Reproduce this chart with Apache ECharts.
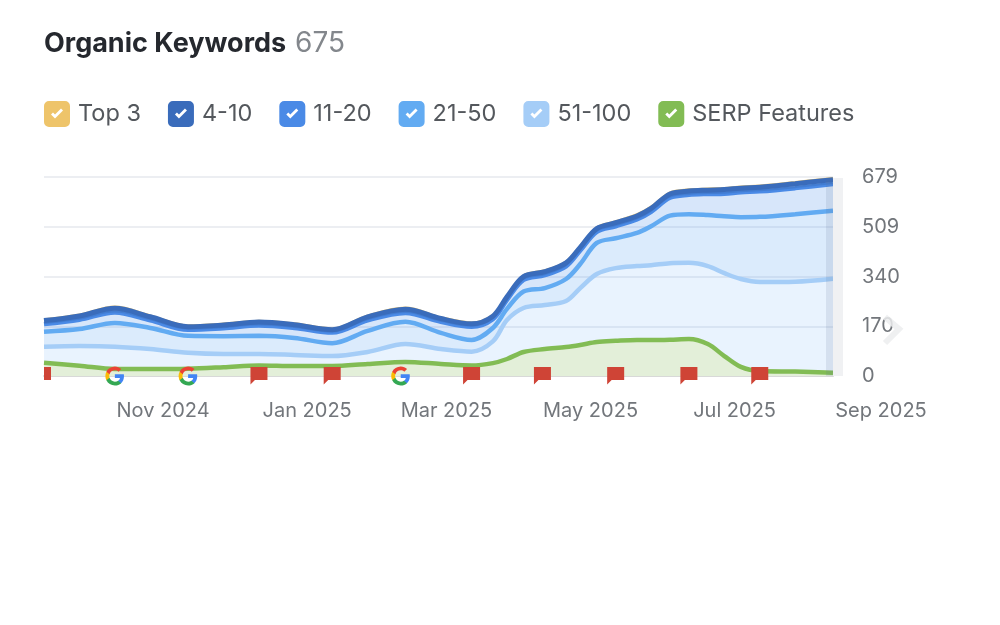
<!DOCTYPE html>
<html><head><meta charset="utf-8">
<style>html,body{margin:0;padding:0;background:#fff}#c{width:1000px;height:625px;filter:blur(0.5px)}</style>
<script src="https://cdn.jsdelivr.net/npm/echarts@6/dist/echarts.min.js"></script>
</head><body><div id="c"></div>
<script>
const dates = ['2024-09-01','2024-09-16','2024-10-01','2024-10-16','2024-11-01','2024-11-16','2024-12-01','2024-12-16','2025-01-01','2025-01-16','2025-02-01','2025-02-16','2025-03-01','2025-03-10','2025-03-16','2025-03-23','2025-04-01','2025-04-10','2025-04-16','2025-04-23','2025-05-01','2025-05-10','2025-05-16','2025-05-24','2025-06-01','2025-06-09','2025-06-16','2025-06-23','2025-07-01','2025-07-16','2025-08-01'];
const kw51to100 = [100,102,100,92,79,75,75,72,68,82,109,92,83,118,191,232,242,256,300,348,368,375,378,385,386,375,351,331,321,322,332];
const kw21to50  = [51,58,81,72,58,61,62,58,44,72,76,55,40,46,38,56,58,75,82,106,102,113,133,162,166,174,194,211,222,230,232];
const kw11to20  = [26,32,36,26,21,27,35,34,36,36,30,38,45,30,31,40,44,43,46,38,41,46,49,61,66,72,77,85,87,89,91];
const kw4to10   = [12,13,14,12,10,11,12,11,10,12,13,11,10,10,10,11,12,12,11,11,12,12,12,13,13,13,14,14,14,15,15];
const kwTop3    = [4,4,5,4,4,4,4,4,4,4,5,4,4,4,4,4,4,4,4,4,4,5,5,5,5,5,5,5,5,5,5];
const serp      = [45,35,24,24,25,30,36,34,34,41,48,41,36,44,58,82,92,99,106,116,120,123,123,124,126,109,68,31,17,15,11];
const flagDates = ['2024-12-01','2025-01-01','2025-03-01','2025-03-31','2025-05-01','2025-06-01','2025-07-01'];
const flagCutDates = ['2024-09-01'];
const googleDates = ['2024-10-01','2024-11-01','2025-01-30'];
const xTickDates = ['2024-11-01','2025-01-01','2025-03-01','2025-05-01','2025-07-01','2025-09-01'];
const xTickLabels = ['Nov 2024','Jan 2025','Mar 2025','May 2025','Jul 2025','Sep 2025'];
const yTickLabels = ['0','170','340','509','679'];
const legendNames = ['Top 3','4-10','11-20','21-50','51-100','SERP Features'];
const FONT = 'Inter';
const SMOOTH = 0.33;
const colors = {'Top 3':'#eec46a','4-10':'#3a6cbb','11-20':'#4a8ae6','21-50':'#62abf2','51-100':'#a5cdf7','SERP Features':'#82bc54'};
const fills = {'Top 3':'rgba(238,196,106,.3)','4-10':'rgba(58,108,187,.45)','11-20':'rgba(75,140,230,.22)','21-50':'rgba(90,165,240,.22)','51-100':'rgba(110,175,245,.15)'};
const ts = d => +echarts.time.parse(d);
const zip = a => dates.map((d,i)=>[d,a[i]]);
const stacked = (name,arr,w,z) => ({name,type:'line',stack:'kw',data:zip(arr),smooth:SMOOTH,showSymbol:false,symbol:'none',z,
  lineStyle:{color:colors[name],width:w},itemStyle:{color:colors[name]},areaStyle:{color:fills[name],opacity:1},silent:true,xAxisIndex:0,yAxisIndex:0});
const CHECK = 'path://M5 0H21A5 5 0 0 1 26 5V21A5 5 0 0 1 21 26H5A5 5 0 0 1 0 21V5A5 5 0 0 1 5 0Z M7 13.5L11 17.5L19 9.5L17 7.5L11 13.5L9 11.5Z';
const gPaths = [['#4285F4','M45.12 24.5c0-1.56-.14-3.06-.4-4.5H24v8.51h11.84c-.51 2.75-2.06 5.08-4.39 6.64v5.52h7.11c4.16-3.83 6.56-9.47 6.56-16.17z'],
['#34A853','M24 46c5.94 0 10.92-1.97 14.56-5.33l-7.11-5.52c-1.97 1.32-4.49 2.1-7.45 2.1-5.73 0-10.58-3.87-12.31-9.07H4.34v5.7C7.96 41.07 15.4 46 24 46z'],
['#FBBC05','M11.69 28.18C11.25 26.86 11 25.45 11 24s.25-2.86.69-4.18v-5.7H4.34C2.85 17.09 2 20.45 2 24c0 3.55.85 6.91 2.34 9.88l7.35-5.7z'],
['#EA4335','M24 10.75c3.23 0 6.13 1.11 8.41 3.29l6.31-6.31C34.91 4.18 29.93 2 24 2 15.4 2 7.96 6.93 4.34 14.12l7.35 5.7c1.73-5.2 6.58-9.07 12.31-9.07z']];
function mark(kind){ return (params,api)=>{
  const p = api.coord([api.value(0),0]);
  if(kind==='google'){
    const s = 19/44;
    return {type:'group',x:p[0]-24*s,y:p[1]-24*s,children:gPaths.map(g=>({type:'path',scaleX:s,scaleY:s,shape:{pathData:g[1]},style:{fill:g[0]}}))};
  }
  const path = kind==='flag' ? 'M-8.5 -9H8.5V4H-4L-8.5 8.5Z' : 'M0 -9H7V4H0Z';
  return {type:'path',x:p[0],y:p[1],shape:{pathData:path},style:{fill:'#cf4436'}};
};}
const custom = (kind,list)=>({type:'custom',renderItem:mark(kind),data:list.map(d=>[d]),encode:{x:0},clip:false,z:8,silent:true,xAxisIndex:0,yAxisIndex:0});
const chart = echarts.init(document.getElementById('c'),null,{renderer:'canvas'});
chart.setOption({
  animation:false,backgroundColor:'#fff',
  textStyle:{fontFamily:FONT},
  title:{left:39,top:25,text:'{a|Organic Keywords}{s| }{b|675}',textStyle:{rich:{
    a:{fontFamily:FONT,fontSize:27,fontWeight:700,color:'#25282e'},
    s:{width:9},
    b:{fontFamily:FONT,fontSize:28,fontWeight:400,color:'#83878c'}}}},
  legend:{left:39,top:96,itemWidth:26,itemHeight:26,itemGap:27,selectedMode:false,
    data:legendNames.map(n=>({name:n,icon:CHECK})),
    textStyle:{fontFamily:FONT,fontSize:23.5,color:'#54585d',padding:[0,0,0,3]}},
  grid:[{left:44,width:789,top:177,height:199},{left:19,width:862,top:177,height:199}],
  xAxis:[
   {type:'time',gridIndex:0,min:dates[0],max:dates[dates.length-1],axisLine:{show:true,lineStyle:{color:'#d8d9d8',width:2}},axisTick:{show:false},axisLabel:{show:false},splitLine:{show:false}},
   {type:'value',gridIndex:1,min:ts('2024-09-01'),max:ts('2025-09-01'),axisLine:{show:false},axisTick:{show:false},splitLine:{show:false},
    axisLabel:{show:true,margin:25,fontFamily:FONT,fontSize:20,color:'#72767b',hideOverlap:false,showMinLabel:true,showMaxLabel:true,
      customValues:xTickDates.map(ts),
      formatter:v=>{const i=xTickDates.findIndex(d=>ts(d)===+v);return i<0?'':xTickLabels[i];}}}
  ],
  yAxis:[
   {type:'value',gridIndex:0,position:'right',min:0,max:679,interval:169.75,axisLine:{show:false},axisTick:{show:false},
    splitLine:{show:true,lineStyle:{color:'#eceef2',width:2}},
    axisLabel:{margin:29,fontFamily:FONT,fontSize:20,color:'#72767b',padding:[0,0,3,0],formatter:(v)=>yTickLabels[Math.round(v/169.75)]}},
   {type:'value',gridIndex:1,min:0,max:1,show:false}
  ],
  series:[
    stacked('51-100',kw51to100,4.5,3),
    stacked('21-50',kw21to50,4.5,3),
    stacked('11-20',kw11to20,4.5,3),
    stacked('4-10',kw4to10,5,4),
    stacked('Top 3',kwTop3,2.5,2),
    {name:'SERP Features',type:'line',data:zip(serp),smooth:SMOOTH,showSymbol:false,symbol:'none',z:5,silent:true,
     lineStyle:{color:colors['SERP Features'],width:4.5},itemStyle:{color:colors['SERP Features']},areaStyle:{color:'#e3efd9',opacity:1},xAxisIndex:0,yAxisIndex:0},
    custom('flag',flagDates),custom('cut',flagCutDates),custom('google',googleDates)
  ],
  graphic:[
    {type:'rect',z:6,shape:{x:826,y:178,width:7,height:198},style:{fill:'rgba(90,115,150,.14)'},silent:true},
    {type:'rect',z:6,shape:{x:833,y:178,width:10,height:198},style:{fill:'#f0f1f3'},silent:true},
    {type:'polyline',z:9,shape:{points:[[885,317],[899,329],[885,343]]},style:{stroke:'rgba(236,237,239,.85)',lineWidth:6,fill:'none'},silent:true}
  ]
});
</script></body></html>
